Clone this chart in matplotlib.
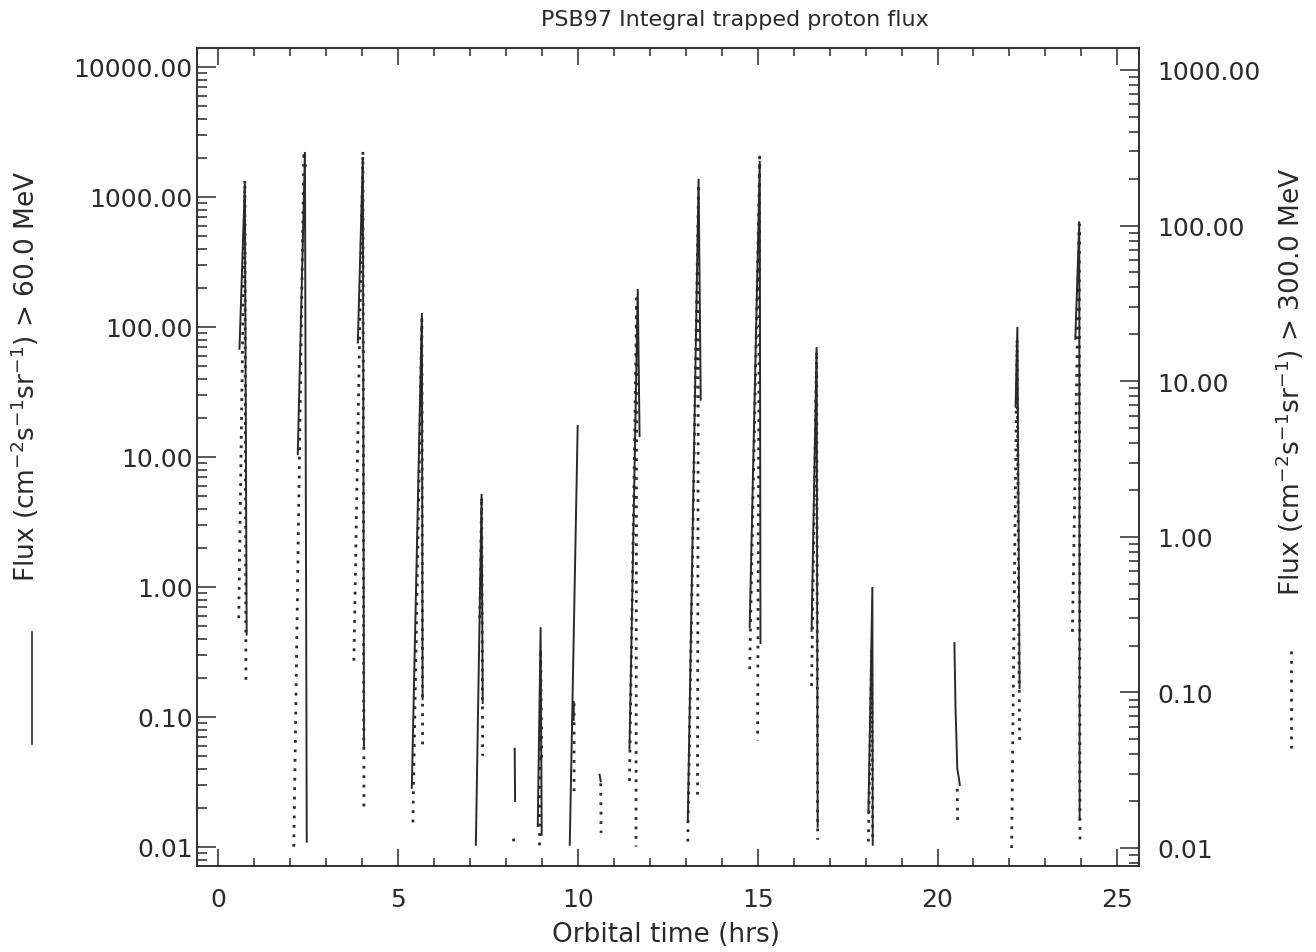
import numpy as np
import matplotlib
matplotlib.use("Agg")
import matplotlib.pyplot as plt
from matplotlib.ticker import LogLocator, FixedLocator, FormatStrFormatter, NullFormatter, MultipleLocator
from matplotlib.lines import Line2D

nan = np.nan

# >60 MeV integral flux (left axis), passes separated by NaN
solid_time = [0.60, 0.75, 0.80, nan,
              2.22, 2.42, 2.47, nan,
              3.89, 4.03, 4.06, nan,
              5.39, 5.67, 5.69, nan,
              7.17, 7.33, 7.36, nan,
              8.25, 8.26, nan,
              8.89, 8.97, 9.00, nan,
              9.78, 10.00, nan,
              9.89, 9.89, nan,
              10.61, 10.64, nan,
              11.44, 11.67, 11.72, nan,
              13.06, 13.36, 13.42, nan,
              14.78, 15.06, 15.08, nan,
              16.50, 16.64, 16.67, nan,
              18.08, 18.19, 18.20, nan,
              20.47, 20.50, 20.55, 20.60, 20.62, nan,
              22.17, 22.22, 22.28, nan,
              23.83, 23.94, 23.95]
solid_flux = [68, 1260, 0.43, nan,
              10.5, 2220, 0.011, nan,
              76, 2030, 0.060, nan,
              0.0285, 128, 0.137, nan,
              0.0104, 5.2, 0.128, nan,
              0.057, 0.0226, nan,
              0.0145, 0.49, 0.0124, nan,
              0.0104, 17.3, nan,
              0.13, 0.095, nan,
              0.036, 0.032, nan,
              0.057, 196, 14.5, nan,
              0.0155, 1380, 27.6, nan,
              0.49, 1900, 0.37, nan,
              0.46, 70, 0.0143, nan,
              0.0182, 1.0, 0.0104, nan,
              0.37, 0.12, 0.040, 0.033, 0.030, nan,
              24.3, 100, 0.167, nan,
              81, 650, 0.0162]

# >300 MeV integral flux (right axis)
dotted_time = [0.58, 0.75, 0.78, nan,
               2.11, 2.39, 2.44, nan,
               3.78, 4.03, 4.06, nan,
               5.42, 5.67, 5.69, nan,
               7.28, 7.33, 7.36, nan,
               8.22, 8.22, nan,
               8.94, 8.97, 9.00, nan,
               9.90, 9.90, nan,
               10.64, 10.65, nan,
               11.44, 11.64, 11.62, nan,
               13.06, 13.36, 13.33, nan,
               14.78, 15.06, 15.00, nan,
               16.50, 16.64, 16.67, nan,
               18.08, 18.17, 18.20, nan,
               20.55, 20.56, nan,
               22.06, 22.21, 22.28, nan,
               23.75, 23.94, 23.96]
dotted_flux = [0.30, 196, 0.116, nan,
               0.0102, 300, 230, nan,
               0.16, 300, 0.018, nan,
               0.0146, 25, 0.046, nan,
               0.30, 1.8, 0.039, nan,
               0.0115, 0.0105, nan,
               0.0104, 0.19, 0.037, nan,
               0.085, 0.022, nan,
               0.026, 0.0125, nan,
               0.027, 34, 0.0102, nan,
               0.0110, 185, 0.022, nan,
               0.141, 276, 0.049, nan,
               0.11, 15.6, 0.0113, nan,
               0.011, 0.19, 0.011, nan,
               0.024, 0.014, nan,
               0.010, 18.6, 0.049, nan,
               0.245, 102, 0.011]

x_ticks = [0, 5, 10, 15, 20, 25]
left_ticks = [0.01, 0.1, 1, 10, 100, 1000, 10000]
right_ticks = [0.01, 0.1, 1, 10, 100, 1000]

title = "PSB97 Integral trapped proton flux"
xlabel = "Orbital time (hrs)"
left_label = r"Flux (cm$^{-2}$s$^{-1}$sr$^{-1}$) > 60.0 MeV"
right_label = r"Flux (cm$^{-2}$s$^{-1}$sr$^{-1}$) > 300.0 MeV"

W, H = 1316, 953
ink = "#2a2a2a"
plt.rcParams['font.family'] = ['DejaVu Sans']
plt.rcParams['mathtext.fontset'] = 'dejavusans'

fig = plt.figure(figsize=(W / 100, H / 100), dpi=100)
L, R, T, B = 197, 1139, 49, 867
ax = fig.add_axes([L / W, 1 - B / H, (R - L) / W, (B - T) / H])
ax2 = ax.twinx()

dot_style = (0, (1, 2.4))
ax.plot(solid_time, solid_flux, color=ink, lw=1.4, solid_joinstyle='miter')
ax2.plot(dotted_time, dotted_flux, color=ink, lw=2.0, linestyle=dot_style)

ax.set_xlim(-0.58, 25.6)
ax.set_yscale('log')
ax.set_ylim(0.00714, 14000)
ax2.set_yscale('log')
ax2.set_ylim(0.00766, 1384)

ax.xaxis.set_major_locator(FixedLocator(x_ticks))
ax.xaxis.set_minor_locator(MultipleLocator(1))
ax.yaxis.set_major_locator(FixedLocator(left_ticks))
ax.yaxis.set_minor_locator(LogLocator(base=10, subs=range(2, 10), numticks=20))
ax.yaxis.set_major_formatter(FormatStrFormatter('%.2f'))
ax.yaxis.set_minor_formatter(NullFormatter())
ax2.yaxis.set_major_locator(FixedLocator(right_ticks))
ax2.yaxis.set_minor_locator(LogLocator(base=10, subs=range(2, 10), numticks=20))
ax2.yaxis.set_major_formatter(FormatStrFormatter('%.2f'))
ax2.yaxis.set_minor_formatter(NullFormatter())

for a in (ax, ax2):
    for s in a.spines.values():
        s.set_linewidth(1.1)
        s.set_color(ink)

ax.tick_params(axis='x', which='both', direction='in', top=True, bottom=True,
               colors=ink, labelsize=18, pad=15)
ax.tick_params(axis='x', which='major', length=12, width=1.1)
ax.tick_params(axis='x', which='minor', length=6, width=1.1)
ax.tick_params(axis='y', which='both', direction='in', left=True, right=False,
               colors=ink, labelsize=18, pad=3)
ax.tick_params(axis='y', which='major', length=14, width=1.1)
ax.tick_params(axis='y', which='minor', length=7, width=1.1)
ax2.tick_params(axis='y', which='both', direction='in', left=False, right=True,
                colors=ink, labelsize=18, pad=13)
ax2.tick_params(axis='y', which='major', length=14, width=1.1)
ax2.tick_params(axis='y', which='minor', length=7, width=1.1)

fig.text(735 / W, 1 - 20 / H, title, ha='center', va='center', fontsize=16, color=ink)
fig.text(666 / W, 1 - 935 / H, xlabel, ha='center', va='center', fontsize=19, color=ink)
fig.text(25 / W, 1 - 376 / H, left_label, ha='center', va='center', rotation=90,
         fontsize=19, color=ink)
fig.text(1290 / W, 1 - 382 / H, right_label, ha='center', va='center', rotation=90,
         fontsize=19, color=ink)

fig.add_artist(Line2D([32 / W, 32 / W], [1 - 633 / H, 1 - 745 / H],
                      transform=fig.transFigure, color=ink, lw=1.2))
fig.add_artist(Line2D([1291 / W, 1291 / W], [1 - 652 / H, 1 - 749 / H],
                      transform=fig.transFigure, color=ink, lw=2.0,
                      linestyle=dot_style))

fig.savefig("out.png", dpi=100, facecolor='white')
